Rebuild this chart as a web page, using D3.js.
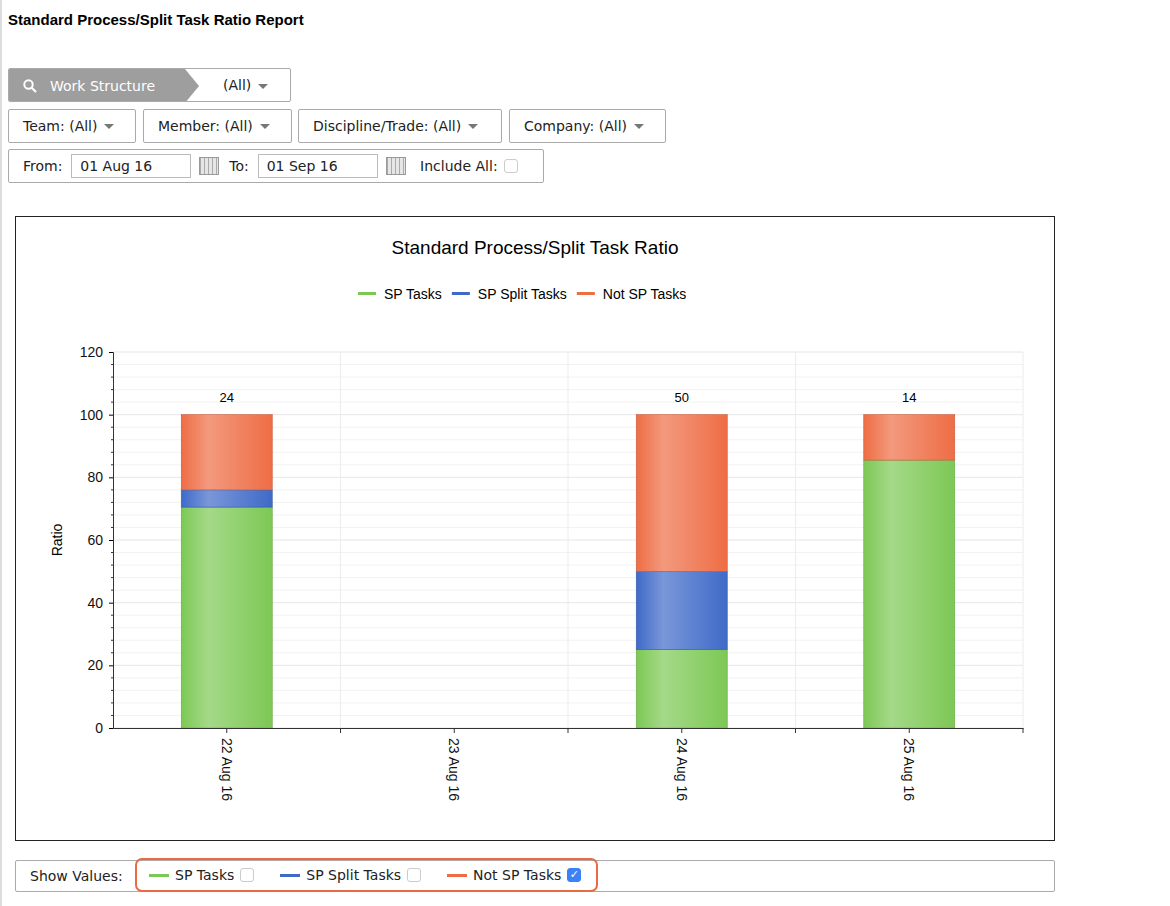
<!DOCTYPE html>
<html><head><meta charset="utf-8">
<script src="https://cdn.jsdelivr.net/npm/d3@7"></script>
<style>
body{margin:0;font-family:Verdana,"DejaVu Sans",sans-serif;background:#fff;width:1170px;height:906px;overflow:hidden;position:relative}
.edge{position:absolute;left:0;top:0;width:2px;height:906px;background:#ddd}
h1{position:absolute;left:8px;top:11px;margin:0;font-size:15px;font-weight:bold;font-family:"Liberation Sans",Arial,sans-serif}
.box{position:absolute;border:1px solid #aaa;border-radius:2px;background:#fff;font-size:14px;color:#222;box-sizing:border-box;display:flex;align-items:center}
.dd{padding:0 14px}
.caret{display:inline-block;margin-left:7px;border-left:5px solid transparent;border-right:5px solid transparent;border-top:5px solid #777;vertical-align:middle}
.inp{border:1px solid #bbb;height:24px;box-sizing:border-box;padding:3px 8px;font-size:14px;display:inline-flex;align-items:center}
.cal{display:inline-block;width:18px;height:16px;background:repeating-linear-gradient(90deg,#aaa 0 1px,#e6e6e6 1px 4px);border:1px solid #999;margin:0 10px 0 8px}
.cb{display:inline-block;width:14px;height:14px;border:1px solid #ccc;border-radius:3px;margin-left:6px;box-sizing:border-box}
.cb.on{background:#3b82f6;border-color:#3b82f6;color:#fff;font-size:11px;line-height:12px;text-align:center}
.ln{display:inline-block;width:20px;height:3px;margin-right:6px;vertical-align:middle}
</style></head><body>
<div class="edge"></div>
<h1>Standard Process/Split Task Ratio Report</h1>
<div class="box" style="left:8px;top:68px;width:283px;height:34px;overflow:hidden">
  <div style="position:absolute;left:0;top:0;height:34px;width:190px;background:#9e9e9e;color:#fff;clip-path:polygon(0 0,176px 0,190px 50%,176px 100%,0 100%);display:flex;align-items:center;padding-left:14px;box-sizing:border-box">
    <svg width="14" height="14" style="margin-right:13px"><circle cx="5.5" cy="5.5" r="4.2" fill="none" stroke="#fff" stroke-width="2"/><line x1="8.5" y1="8.5" x2="13" y2="13" stroke="#fff" stroke-width="2.2"/></svg>Work Structure</div>
  <div style="position:absolute;left:214px;top:8px">(All)<span class="caret"></span></div>
</div>
<div class="box dd" style="left:8px;top:109px;width:128px;height:34px">Team:&nbsp;(All)<span class="caret"></span></div>
<div class="box dd" style="left:143px;top:109px;width:149px;height:34px">Member:&nbsp;(All)<span class="caret"></span></div>
<div class="box dd" style="left:298px;top:109px;width:204px;height:34px">Discipline/Trade:&nbsp;(All)<span class="caret"></span></div>
<div class="box dd" style="left:509px;top:109px;width:157px;height:34px">Company:&nbsp;(All)<span class="caret"></span></div>
<div class="box" style="left:8px;top:149px;width:536px;height:34px;padding-left:14px">From:&nbsp;&nbsp;<span class="inp" style="width:120px">01 Aug 16</span><span class="cal"></span>To:&nbsp;&nbsp;<span class="inp" style="width:120px">01 Sep 16</span><span class="cal"></span>&nbsp;Include All:<span class="cb"></span></div>
<div id="chart" style="position:absolute;left:15px;top:216px"></div>
<div class="box" style="left:15px;top:860px;width:1040px;height:32px;padding-left:14px">Show Values:
  <div style="position:absolute;left:119px;top:-3px;width:463px;height:34px;border:2px solid #ea6a42;border-radius:7px;box-sizing:border-box;display:flex;align-items:center;padding-left:12px">
    <span class="ln" style="background:#7dc855"></span>SP Tasks<span class="cb"></span>
    <span class="ln" style="background:#3f6ac8;margin-left:26px"></span>SP Split Tasks<span class="cb"></span>
    <span class="ln" style="background:#ee6d45;margin-left:26px"></span>Not SP Tasks<span class="cb on">&#10003;</span>
  </div>
</div>
<script>
// dati
var categories = ["22 Aug 16", "23 Aug 16", "24 Aug 16", "25 Aug 16"];
var spTasks = [70.5, 0, 25, 85.5];
var spSplitTasks = [5.5, 0, 25, 0];
var notSpTasks = [24, 0, 50, 14.5];
var topLabels = ["24", "", "50", "14"];
var seriesNames = ["SP Tasks", "SP Split Tasks", "Not SP Tasks"];
var seriesColors = ["#7dc855", "#3f6ac8", "#ee6d45"];
var yTicks = [0, 20, 40, 60, 80, 100, 120];

var W = 1040, H = 625;
var m = { left: 98, right: 32, top: 136, bottom: 113 };
var svg = d3.select("#chart").append("svg").attr("width", W).attr("height", H)
  .style("font-family", "'Liberation Sans',Arial,sans-serif");
svg.append("rect").attr("x", 0.5).attr("y", 0.5).attr("width", W - 1).attr("height", H - 1)
  .attr("fill", "#fff").attr("stroke", "#222");

var defs = svg.append("defs");
seriesColors.forEach(function (c, i) {
  var g = defs.append("linearGradient").attr("id", "g" + i);
  var light = d3.interpolateRgb(c, "#fff")(0.3);
  g.append("stop").attr("offset", "0%").attr("stop-color", c);
  g.append("stop").attr("offset", "30%").attr("stop-color", light);
  g.append("stop").attr("offset", "100%").attr("stop-color", c);
});

var x = d3.scaleBand().domain(categories).range([m.left, W - m.right]).paddingInner(0).paddingOuter(0);
var y = d3.scaleLinear().domain([0, 120]).range([H - m.bottom, m.top]);

svg.append("text").attr("x", W / 2).attr("y", 38).attr("text-anchor", "middle")
  .attr("font-size", 19).text("Standard Process/Split Task Ratio");

// legenda
var leg = svg.append("g").attr("transform", "translate(343,78)");
var lx = 0;
seriesNames.forEach(function (n, i) {
  var g = leg.append("g").attr("transform", "translate(" + lx + ",0)");
  g.append("rect").attr("y", -2).attr("width", 18).attr("height", 3).attr("fill", seriesColors[i]);
  var t = g.append("text").attr("x", 26).attr("y", 5).attr("font-size", 14).text(n);
  lx += 26 + t.node().getComputedTextLength() + 10;
});

// griglia
var minor = d3.range(0, 121, 4);
svg.append("g").selectAll("line").data(minor).enter().append("line")
  .attr("x1", m.left).attr("x2", W - m.right).attr("y1", function (d) { return y(d); }).attr("y2", function (d) { return y(d); })
  .attr("stroke", function (d) { return d % 20 === 0 ? "#e6e6e6" : "#f2f2f2"; });
svg.append("g").selectAll("line").data(categories.slice(1).concat([null])).enter().append("line")
  .attr("x1", function (d) { return d ? x(d) : W - m.right; }).attr("x2", function (d) { return d ? x(d) : W - m.right; })
  .attr("y1", m.top).attr("y2", H - m.bottom).attr("stroke", "#ececec");

// barre
var data = categories.map(function (c, i) {
  return { cat: c, vals: [spTasks[i], spSplitTasks[i], notSpTasks[i]] };
});
var bw = x.bandwidth() * 0.4;
data.forEach(function (d, ci) {
  var base = 0;
  d.vals.forEach(function (v, si) {
    if (v > 0) {
      svg.append("rect").attr("x", x(d.cat) + (x.bandwidth() - bw) / 2).attr("width", bw)
        .attr("y", y(base + v)).attr("height", y(base) - y(base + v))
        .attr("fill", "url(#g" + si + ")").attr("stroke", d3.color(seriesColors[si]).darker(0.5)).attr("stroke-width", 0.6);
    }
    base += v;
  });
  if (topLabels[ci]) svg.append("text").attr("x", x(d.cat) + x.bandwidth() / 2).attr("y", y(base) - 13)
    .attr("text-anchor", "middle").attr("font-size", 13).text(topLabels[ci]);
});

// assi
var ya = svg.append("g").attr("transform", "translate(" + m.left + ",0)")
  .call(d3.axisLeft(y).tickValues(yTicks).tickSize(4).tickPadding(6));
ya.selectAll("text").attr("font-size", 14).attr("fill", "#111");
ya.select(".domain").attr("stroke", "#333");
ya.append("g").selectAll("line").data(minor.filter(function (d) { return d % 20; })).enter().append("line")
  .attr("x1", -2).attr("x2", 0).attr("y1", function (d) { return y(d); }).attr("y2", function (d) { return y(d); }).attr("stroke", "#333");
svg.append("text").attr("transform", "translate(47," + (y(60)) + ") rotate(-90)")
  .attr("text-anchor", "middle").attr("font-size", 14).text("Ratio");

var xa = svg.append("g").attr("transform", "translate(0," + (H - m.bottom) + ")")
  .call(d3.axisBottom(x).tickSize(0).tickSizeOuter(0));
xa.select(".domain").attr("stroke", "#333");
xa.selectAll(".tick text").attr("font-size", 14).attr("fill", "#111")
  .attr("transform", "rotate(90)").attr("text-anchor", "start").attr("x", 10).attr("y", 0).attr("dy", "0.35em");
xa.append("g").selectAll("line").data(categories.slice(1).concat(["end"])).enter().append("line")
  .attr("x1", function (d) { return d === "end" ? W - m.right : x(d); }).attr("x2", function (d) { return d === "end" ? W - m.right : x(d); })
  .attr("y1", 0).attr("y2", 5).attr("stroke", "#333");
xa.append("g").selectAll("line").data(categories).enter().append("line")
  .attr("x1", function (d) { return x(d) + x.bandwidth() / 2; }).attr("x2", function (d) { return x(d) + x.bandwidth() / 2; })
  .attr("y1", 0).attr("y2", 5).attr("stroke", "#333");
</script>
</body></html>
